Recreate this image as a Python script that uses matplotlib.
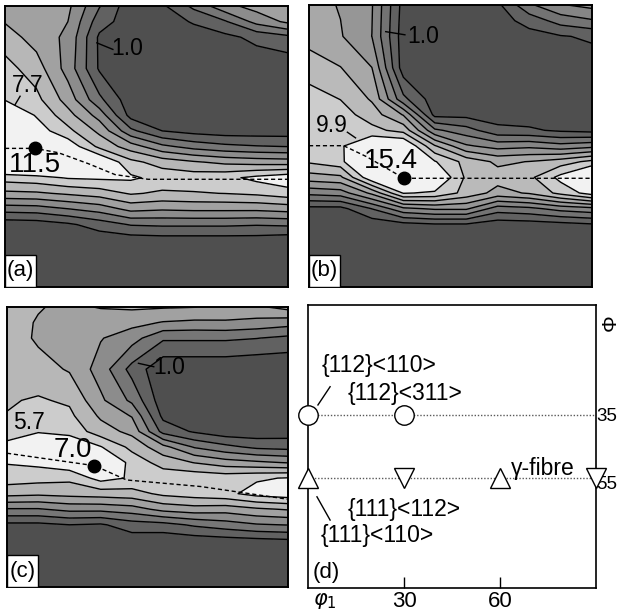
import matplotlib
matplotlib.use("Agg")
import matplotlib.pyplot as plt
from matplotlib.patches import Rectangle
import numpy as np

plt.rcParams["font.family"] = ["Liberation Sans", "DejaVu Sans"]
plt.rcParams["mathtext.fontset"] = "dejavusans"

# ODF section grid (degrees)
phi1 = [0, 10, 20, 30, 40, 50, 60, 70, 80, 90]
Phi = [0, 5, 10, 20, 30, 35, 40, 45, 50, 55, 60, 65, 70, 75, 80, 90]

f_a = [
    [5.0, 4.9, 4.6, 2.2, 0.3, 0.8, 2.4, 4.0, 4.8, 5.0],
    [5.4, 4.95, 4.35, 1.5, 0.4, 0.5, 1.1, 2.0, 3.6, 4.6],
    [6.0, 5.0, 4.1, 0.8, 0.4, 0.4, 0.5, 0.7, 1.3, 1.8],
    [7.0, 6.0, 3.9, 0.85, 0.3, 0.3, 0.3, 0.2, 0.2, 0.2],
    [7.65, 6.9, 5.0, 2.4, 0.3, 0.3, 0.3, 0.3, 0.3, 0.3],
    [9.0, 7.6, 5.9, 3.9, 0.6, 0.4, 0.3, 0.3, 0.3, 0.3],
    [10.0, 8.3, 6.9, 5.2, 2.4, 1.0, 0.6, 0.4, 0.4, 0.4],
    [10.8, 11.5, 8.5, 6.3, 4.9, 3.5, 2.8, 2.4, 2.2, 2.1],
    [10.0, 10.5, 9.8, 9.0, 6.9, 6.1, 5.6, 5.2, 5.0, 4.9],
    [7.1, 7.3, 7.8, 7.9, 7.9, 7.3, 7.2, 7.4, 8.0, 8.5],
    [5.2, 5.3, 5.65, 6.0, 6.7, 6.4, 6.5, 6.6, 6.8, 7.2],
    [2.6, 2.7, 3.2, 3.7, 4.7, 4.5, 4.6, 4.6, 4.6, 4.8],
    [0.3, 0.4, 0.8, 1.5, 2.2, 2.3, 2.3, 2.3, 2.2, 2.3],
    [0.2, 0.2, 0.2, 0.3, 0.4, 0.5, 0.5, 0.5, 0.5, 0.3],
    [0.2, 0.2, 0.2, 0.2, 0.2, 0.2, 0.2, 0.2, 0.2, 0.2],
    [0.2, 0.2, 0.2, 0.2, 0.2, 0.2, 0.2, 0.2, 0.2, 0.2],
]
f_b = [
    [6.6, 6.0, 4.9, 0.5, 0.3, 0.3, 0.7, 3.3, 4.7, 5.2],
    [6.7, 6.1, 4.85, 0.4, 0.3, 0.3, 0.4, 1.5, 2.8, 3.4],
    [6.9, 6.2, 4.8, 0.3, 0.3, 0.3, 0.3, 0.5, 0.9, 1.2],
    [8.0, 7.4, 6.1, 0.3, 0.3, 0.3, 0.3, 0.3, 0.3, 0.3],
    [9.2, 8.6, 7.2, 2.6, 0.3, 0.3, 0.3, 0.3, 0.3, 0.3],
    [9.4, 9.2, 8.0, 6.0, 0.6, 0.6, 0.3, 0.3, 0.3, 0.3],
    [9.6, 9.6, 9.0, 8.2, 3.8, 2.8, 1.4, 1.2, 0.8, 0.6],
    [9.6, 9.7, 11.5, 11.5, 7.5, 5.0, 4.3, 4.5, 4.0, 4.4],
    [8.8, 9.4, 13.5, 14.5, 10.0, 8.2, 7.1, 7.4, 8.0, 9.0],
    [6.8, 7.1, 11.0, 15.4, 11.5, 8.4, 7.9, 8.3, 10.3, 12.5],
    [3.9, 4.2, 6.4, 10.0, 9.7, 8.2, 6.9, 7.5, 9.0, 10.5],
    [0.6, 0.6, 2.3, 4.5, 5.0, 5.0, 2.9, 3.2, 4.0, 4.4],
    [0.3, 0.3, 0.2, 0.6, 0.9, 0.9, 0.3, 0.4, 0.6, 0.9],
    [0.3, 0.3, 0.3, 0.3, 0.3, 0.3, 0.3, 0.3, 0.3, 0.3],
    [0.3, 0.3, 0.3, 0.3, 0.3, 0.3, 0.3, 0.3, 0.3, 0.3],
    [0.3, 0.3, 0.3, 0.3, 0.3, 0.3, 0.3, 0.3, 0.3, 0.3],
]
f_c = [
    [4.5, 4.2, 3.9, 4.2, 4.25, 4.2, 4.15, 3.9, 4.0, 4.4],
    [4.55, 4.05, 3.8, 3.5, 3.6, 3.3, 3.2, 3.25, 3.1, 2.9],
    [4.6, 4.0, 3.75, 3.4, 2.9, 1.9, 1.9, 1.9, 1.8, 1.6],
    [4.7, 4.45, 4.05, 3.0, 1.5, 0.4, 0.4, 0.4, 0.3, 0.3],
    [4.85, 5.0, 4.8, 3.5, 2.4, 0.5, 0.4, 0.4, 0.4, 0.4],
    [4.95, 5.3, 5.1, 4.0, 3.3, 0.8, 0.5, 0.4, 0.4, 0.4],
    [5.4, 5.65, 5.45, 4.5, 3.9, 1.5, 0.9, 0.5, 0.5, 0.6],
    [5.9, 6.3, 6.4, 5.75, 4.7, 3.6, 2.5, 2.0, 1.6, 1.5],
    [5.75, 5.9, 6.3, 6.9, 5.4, 4.6, 4.1, 3.7, 3.5, 3.3],
    [5.3, 5.2, 5.1, 6.0, 5.6, 5.4, 5.5, 5.4, 5.6, 5.75],
    [4.4, 4.3, 4.4, 4.5, 4.6, 5.1, 5.3, 5.5, 6.0, 6.2],
    [2.5, 2.5, 2.8, 2.8, 3.0, 3.6, 3.8, 3.7, 4.0, 4.2],
    [0.8, 0.8, 1.0, 0.9, 1.4, 1.5, 1.9, 2.2, 2.5, 2.6],
    [0.5, 0.5, 0.5, 0.5, 0.6, 0.5, 0.6, 0.7, 0.8, 0.9],
    [0.5, 0.5, 0.5, 0.5, 0.5, 0.5, 0.5, 0.5, 0.5, 0.5],
    [0.5, 0.5, 0.5, 0.5, 0.5, 0.5, 0.5, 0.5, 0.5, 0.5],
]

# contour levels
levels_a = [1.0, 2.12, 3.23, 4.35, 5.47, 6.58, 7.7]
levels_b = [1.0, 2.27, 3.54, 4.81, 6.09, 7.36, 8.63, 9.9]
levels_c = [1.0, 1.78, 2.57, 3.35, 4.13, 4.92, 5.7]

# skeleton lines (dashed) and maxima
ridge_a_phi1 = [0, 9.5, 17, 26.5, 35, 45.5, 90]
ridge_a_Phi = [45.6, 45.6, 47, 50.5, 54, 55.5, 55.5]
ridge_b_phi1 = [0, 11, 18.3, 30.2, 90]
ridge_b_Phi = [44.9, 44.9, 48.4, 55.3, 55.3]
ridge_c_phi1 = [0, 28, 38.3, 62, 90]
ridge_c_Phi = [47, 51, 55.6, 57.7, 61.8]
peak_a = (9.5, 45.6)
peak_b = (30.2, 55.3)
peak_c = (28, 51)

# panel (d): ideal components
comp_phi1 = [0, 30, 0, 30, 60, 90]
comp_Phi = [35, 35, 55, 55, 55, 55]
comp_marker = ["o", "o", "^", "v", "^", "v"]
fibre_Phi = [35, 55]


def odf_panel(ax, f, levels, tag):
    n = len(levels)
    shades = [0.31] + list(np.linspace(0.38, 0.80, n - 1)) + [0.95]
    ax.contourf(phi1, Phi, f, levels=[-1] + levels + [100],
                colors=[str(round(s, 3)) for s in shades])
    ax.contour(phi1, Phi, f, levels=levels, colors="k", linewidths=1.0)
    ax.set_xlim(0, 90)
    ax.set_ylim(90, 0)
    ax.set_xticks([])
    ax.set_yticks([])
    for s in ax.spines.values():
        s.set_linewidth(1.4)
    ax.add_patch(Rectangle((0, 0), 0.11, 0.115, transform=ax.transAxes,
                           facecolor="white", edgecolor="k", lw=1, zorder=5))
    ax.text(0.055, 0.057, tag, transform=ax.transAxes, ha="center",
            va="center", fontsize=16, zorder=6)


fig = plt.figure(figsize=(6.19, 6.13), dpi=100)

# (a)
ax = fig.add_axes([0.0081, 0.5318, 0.4572, 0.4584])
odf_panel(ax, f_a, levels_a, "(a)")
ax.plot(ridge_a_phi1, ridge_a_Phi, color="k", ls=(0, (3, 2)), lw=1)
ax.plot(*peak_a, "o", color="k", ms=9)
ax.text(39, 13.5, "1.0", fontsize=16.5, ha="center", va="center")
ax.plot([29.2, 34.3], [11.8, 13.9], color="k", lw=1)
ax.text(7.2, 25.5, "7.7", fontsize=16.5, ha="center", va="center")
ax.plot([4.8, 3.2], [28.9, 31.6], color="k", lw=1)
ax.text(9.5, 51, "11.5", fontsize=20, ha="center", va="center")

# (b)
ax = fig.add_axes([0.4992, 0.5318, 0.4572, 0.46])
odf_panel(ax, f_b, levels_b, "(b)")
ax.plot(ridge_b_phi1, ridge_b_Phi, color="k", ls=(0, (3, 2)), lw=1)
ax.plot(*peak_b, "o", color="k", ms=9)
ax.text(36.3, 10.1, "1.0", fontsize=16.5, ha="center", va="center")
ax.plot([24.4, 30.5], [8.5, 9.5], color="k", lw=1)
ax.text(7.2, 38.4, "9.9", fontsize=16.5, ha="center", va="center")
ax.plot([12.2, 14.8], [40.6, 42.4], color="k", lw=1)
ax.text(26, 49.8, "15.4", fontsize=20, ha="center", va="center")

# (c)
ax = fig.add_axes([0.0113, 0.0424, 0.454, 0.4568])
odf_panel(ax, f_c, levels_c, "(c)")
ax.plot(ridge_c_phi1, ridge_c_Phi, color="k", ls=(0, (3, 2)), lw=1)
ax.plot(*peak_c, "o", color="k", ms=9)
ax.text(52, 19.4, "1.0", fontsize=16.5, ha="center", va="center")
ax.plot([42.1, 47.0], [18.1, 19.2], color="k", lw=1)
ax.text(7.1, 37.1, "5.7", fontsize=16.5, ha="center", va="center")
ax.text(21, 46, "7.0", fontsize=20, ha="center", va="center")

# (d) schematic
axd = fig.add_axes([0.4976, 0.0408, 0.4653, 0.4617])
axd.set_xlim(0, 90)
axd.set_ylim(90, 0)
for p in fibre_Phi:
    axd.plot([0, 90], [p, p], color="0.35", ls=(0, (1, 1.3)), lw=1)
for x, y, m in zip(comp_phi1, comp_Phi, comp_marker):
    axd.plot(x, y, m, ms=14 if m == "o" else 15, mfc="white", mec="k",
             mew=1, clip_on=False, zorder=5)
axd.text(4.4, 19.3, "{112}<110>", fontsize=16.5, va="center")
axd.text(12.5, 28.3, "{112}<311>", fontsize=16.5, va="center")
axd.text(12.5, 64.9, "{111}<112>", fontsize=16.5, va="center")
axd.text(4.0, 73.4, "{111}<110>", fontsize=16.5, va="center")
axd.text(63.5, 52.0, "γ-fibre", fontsize=16.5, va="center")
axd.text(1.3, 85.2, "(d)", fontsize=16, va="center")
axd.plot([3.1, 6.9], [31.8, 26], color="k", lw=1)
axd.plot([2.8, 6.9], [61, 68.4], color="k", lw=1)
axd.set_xticks([30, 60])
axd.set_xticklabels(["30", "60"], fontsize=16)
axd.tick_params(axis="x", direction="in", length=8, width=1, pad=2)
axd.set_yticks([])
axd.text(5.3, 90.8, r"$\varphi_1$", fontsize=15, ha="center", va="top",
         clip_on=False)
axd.text(90.1, 35.5, "35", fontsize=13.5, va="center", clip_on=False)
axd.text(90.1, 57, "55", fontsize=13.5, va="center", clip_on=False)
axd.text(94.3, 5.6, "Φ", fontsize=15, ha="center", va="center",
         rotation=90, clip_on=False)
for s in axd.spines.values():
    s.set_linewidth(1.2)

fig.savefig("out.png", dpi=100)
